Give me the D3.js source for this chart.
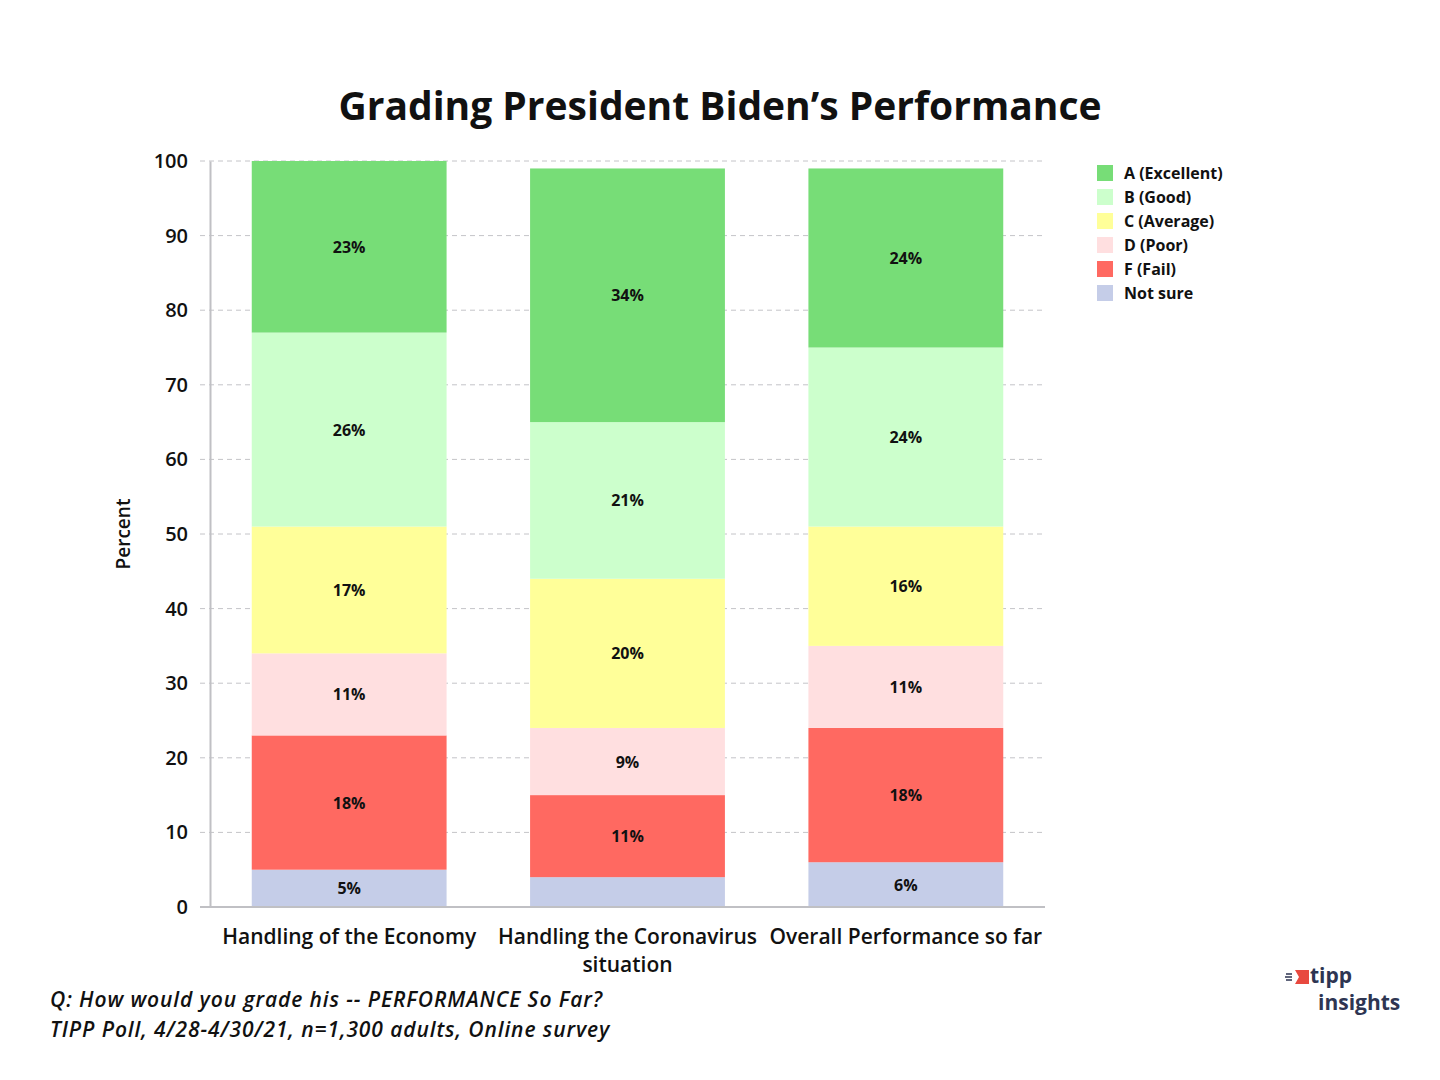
<!DOCTYPE html>
<html lang="en">
<head>
<meta charset="UTF-8" />
<script src="https://d3js.org/d3.v7.min.js"></script>
<title>Grading President Biden's Performance</title>
<style>
  body { margin: 0; background: #fff; }
  text { font-family: "Open Sans", "Roboto", sans-serif; fill: #111; }
  .grid line { stroke: #c4c4c8; stroke-dasharray: 5,4; }
  .seglabel { font-size: 16px; font-weight: 700; }
</style>
</head>
<body>
<script>
// categories and series
var categories = ["Handling of the Economy", "Handling the Coronavirus situation", "Overall Performance so far"];
var catLines = [["Handling of the Economy"], ["Handling the Coronavirus", "situation"], ["Overall Performance so far"]];
var grades = ["Not sure", "F (Fail)", "D (Poor)", "C (Average)", "B (Good)", "A (Excellent)"];
var notSure   = [5, 4, 6];
var fail      = [18, 11, 18];
var poor      = [11, 9, 11];
var average   = [17, 20, 16];
var good      = [26, 21, 24];
var excellent = [23, 34, 24];
var yTicks = [0, 10, 20, 30, 40, 50, 60, 70, 80, 90, 100];
var colors = {
  "A (Excellent)": "#77dd77",
  "B (Good)": "#ccffcc",
  "C (Average)": "#ffff99",
  "D (Poor)": "#ffdfe0",
  "F (Fail)": "#ff6961",
  "Not sure": "#c5cde8"
};

var seriesVals = [notSure, fail, poor, average, good, excellent];
var rows = categories.map(function(c, i) {
  var r = { cat: c };
  grades.forEach(function(g, j) { r[g] = seriesVals[j][i]; });
  return r;
});

var width = 1440, height = 1080;
var svg = d3.select("body").append("svg").attr("width", width).attr("height", height);

var x = d3.scaleBand().domain(categories).range([210, 1045]).paddingInner(0.3).paddingOuter(0.15);
var y = d3.scaleLinear().domain([0, 100]).range([907, 161]);

// grid
svg.append("g").attr("class", "grid")
  .selectAll("line").data(yTicks.filter(function(d){ return d > 0; })).enter().append("line")
  .attr("x1", 200).attr("x2", 1045)
  .attr("y1", function(d){ return y(d); }).attr("y2", function(d){ return y(d); });

// stacks
var stack = d3.stack().keys(grades)(rows);
var layer = svg.append("g").selectAll("g").data(stack).enter().append("g")
  .attr("fill", function(d){ return colors[d.key]; });
layer.selectAll("rect").data(function(d){ return d; }).enter().append("rect")
  .attr("x", function(d){ return x(d.data.cat); })
  .attr("width", x.bandwidth())
  .attr("y", function(d){ return y(d[1]); })
  .attr("height", function(d){ return y(d[0]) - y(d[1]); });

layer.selectAll("text").data(function(d){ return d; }).enter()
  .filter(function(d){ return d[1] - d[0] >= 5; })
  .append("text").attr("class", "seglabel")
  .attr("x", function(d){ return x(d.data.cat) + x.bandwidth() / 2; })
  .attr("y", function(d){ return (y(d[0]) + y(d[1])) / 2 + 6; })
  .attr("text-anchor", "middle")
  .text(function(d){ return (d[1] - d[0]) + "%"; });

// axes
var yAxis = svg.append("g").attr("transform", "translate(210,0)")
  .call(d3.axisLeft(y).tickValues(yTicks).tickSize(0).tickPadding(22));
yAxis.select(".domain").attr("stroke", "#c0c0c4").attr("stroke-width", 2);
yAxis.selectAll("text").style("font-size", "20px").style("font-weight", "600");

var xAxis = svg.append("g").attr("transform", "translate(0,907)")
  .call(d3.axisBottom(x).tickSize(0).tickFormat(""));
xAxis.select(".domain").attr("stroke", "#c0c0c4").attr("stroke-width", 2).attr("d", "M200,0H1045");
xAxis.selectAll(".tick").each(function(d, i) {
  var t = d3.select(this).append("text").attr("y", 37).attr("text-anchor", "middle")
    .style("font-size", "21px").style("font-weight", "600").attr("fill", "#111");
  catLines[i].forEach(function(l, k) {
    t.append("tspan").attr("x", 0).attr("dy", k === 0 ? 0 : 28).text(l);
  });
});

svg.append("text").attr("transform", "translate(130,534) rotate(-90)")
  .attr("text-anchor", "middle").style("font-size", "19px").style("font-weight", "600").text("Percent");

// title
svg.append("text").attr("x", 720).attr("y", 120).attr("text-anchor", "middle")
  .style("font-size", "39px").style("font-weight", "700").text("Grading President Biden\u2019s Performance");

// legend
var legendOrder = grades.slice().reverse();
var lg = svg.append("g").selectAll("g").data(legendOrder).enter().append("g")
  .attr("transform", function(d, i){ return "translate(1097," + (165 + i * 24) + ")"; });
lg.append("rect").attr("width", 16).attr("height", 16).attr("fill", function(d){ return colors[d]; });
lg.append("text").attr("x", 27).attr("y", 14).style("font-size", "16px").style("font-weight", "700").text(function(d){ return d; });

// footer
var foot = svg.append("g").style("font-size", "21px").style("font-style", "italic")
  .style("font-weight", "600").style("letter-spacing", "0.9px");
foot.append("text").attr("x", 50).attr("y", 1007).text("Q:  How would you grade his -- PERFORMANCE So Far?");
foot.append("text").attr("x", 50).attr("y", 1037).text("TIPP Poll, 4/28-4/30/21, n=1,300 adults, Online survey");

// logo
var logo = svg.append("g").attr("transform", "translate(1285,968)");
logo.append("path").attr("d", "M10,2 L24,2 L24,16 L10,16 L14,9 Z").attr("fill", "#e8493f");
logo.append("path").attr("d", "M1,6 H7 M0,9 H7 M1,12 H7").attr("stroke", "#2e3552").attr("stroke-width", 1.5);
logo.append("text").attr("x", 25).attr("y", 15).style("font-size", "21px").style("font-weight", "700")
  .style("fill", "#2e3552").text("tipp");
logo.append("text").attr("x", 33).attr("y", 42).style("font-size", "21px").style("font-weight", "700")
  .style("fill", "#2e3552").text("insights");
</script>
</body>
</html>
